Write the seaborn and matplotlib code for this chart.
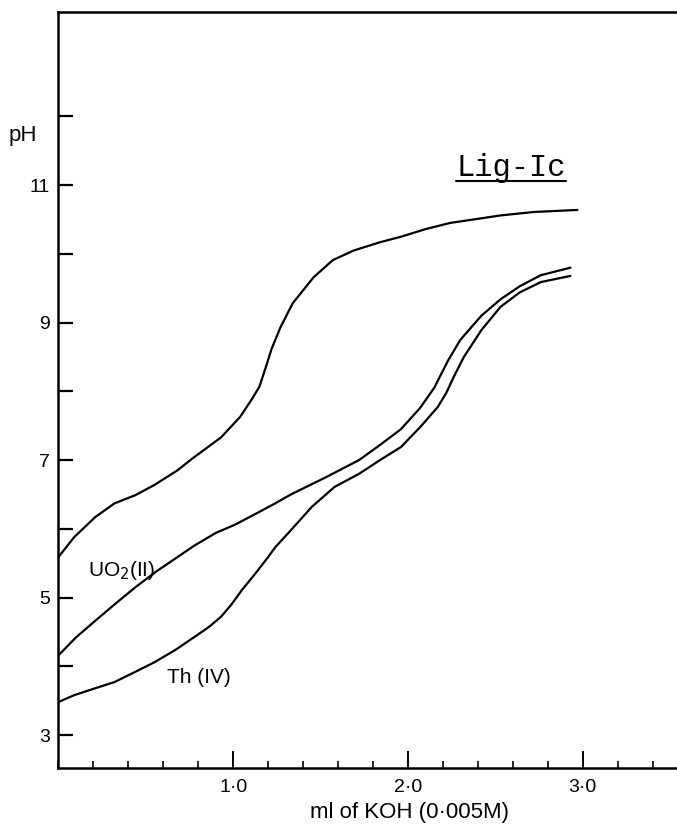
import numpy as np
import pandas as pd
import matplotlib
matplotlib.use("Agg")
import matplotlib.pyplot as plt
from matplotlib.lines import Line2D
from matplotlib.ticker import MultipleLocator, FixedLocator
import seaborn as sns

# ---- data ----
lig_x = [0.00, 0.09, 0.21, 0.32, 0.44, 0.55, 0.68, 0.77, 0.93, 1.04, 1.11, 1.15,
         1.18, 1.22, 1.27, 1.34, 1.46, 1.57, 1.69, 1.84, 1.96, 2.10, 2.24, 2.53,
         2.72, 2.97]
lig_y = [5.59, 5.88, 6.17, 6.37, 6.49, 6.64, 6.85, 7.03, 7.33, 7.63, 7.90, 8.07,
         8.30, 8.62, 8.93, 9.28, 9.66, 9.91, 10.05, 10.17, 10.25, 10.36, 10.45,
         10.56, 10.61, 10.64]

uo2_x = [0.00, 0.10, 0.20, 0.33, 0.44, 0.56, 0.67, 0.78, 0.90, 1.01, 1.13, 1.24,
         1.33, 1.53, 1.72, 1.84, 1.96, 2.07, 2.15, 2.19, 2.23, 2.30, 2.42, 2.53,
         2.64, 2.76, 2.93]
uo2_y = [4.16, 4.42, 4.64, 4.92, 5.15, 5.38, 5.57, 5.76, 5.94, 6.06, 6.22, 6.37,
         6.50, 6.75, 7.00, 7.22, 7.45, 7.76, 8.05, 8.25, 8.45, 8.75, 9.10, 9.34,
         9.53, 9.69, 9.80]

th_x = [0.00, 0.09, 0.21, 0.32, 0.44, 0.55, 0.67, 0.78, 0.86, 0.93, 0.99, 1.05,
        1.13, 1.20, 1.24, 1.33, 1.45, 1.58, 1.72, 1.84, 1.96, 2.07, 2.17, 2.22,
        2.26, 2.32, 2.42, 2.53, 2.64, 2.76, 2.93]
th_y = [3.48, 3.58, 3.68, 3.77, 3.92, 4.06, 4.24, 4.43, 4.57, 4.72, 4.90, 5.11,
        5.36, 5.59, 5.73, 5.98, 6.32, 6.61, 6.80, 7.00, 7.19, 7.48, 7.77, 7.98,
        8.20, 8.50, 8.89, 9.23, 9.44, 9.59, 9.68]

series_names = ["Lig-Ic", "UO2(II)", "Th(IV)"]
y_ticks = [3, 4, 5, 6, 7, 8, 9, 10, 11, 12]
y_tick_labels = ["3", "", "5", "", "7", "", "9", "", "11", ""]
x_major = [1.0, 2.0, 3.0]
x_major_labels = ["1·0", "2·0", "3·0"]

df = pd.concat([
    pd.DataFrame({"x": lig_x, "pH": lig_y, "series": series_names[0]}),
    pd.DataFrame({"x": uo2_x, "pH": uo2_y, "series": series_names[1]}),
    pd.DataFrame({"x": th_x, "pH": th_y, "series": series_names[2]}),
], ignore_index=True)

sns.set_theme(style="ticks")
plt.rcParams["font.family"] = ["Liberation Sans", "DejaVu Sans"]

fig = plt.figure(figsize=(6.77, 8.26), dpi=100)
ax = fig.add_axes([58.5 / 677, 58 / 826, 1 - 58.5 / 677, (768 - 12) / 826])

sns.lineplot(data=df, x="x", y="pH", hue="series", units="series",
             estimator=None, sort=False, palette=["black"] * 3,
             linewidth=1.6, legend=False, ax=ax)
for ln in ax.lines:
    ln.set_solid_joinstyle("round")
    ln.set_solid_capstyle("round")

ax.set_xlim(0, 3.54)
ax.set_ylim(2.52, 13.52)

for s in ["left", "bottom", "top"]:
    ax.spines[s].set_linewidth(1.8)
    ax.spines[s].set_color("black")
ax.spines["right"].set_visible(False)

ax.yaxis.set_major_locator(FixedLocator(y_ticks))
ax.set_yticklabels(y_tick_labels)
ax.xaxis.set_major_locator(FixedLocator(x_major))
ax.set_xticklabels(x_major_labels)
ax.xaxis.set_minor_locator(MultipleLocator(0.2))

ax.tick_params(axis="y", direction="in", length=11, width=1.6, labelsize=14,
               pad=6, colors="black", left=True, right=False)
ax.tick_params(axis="x", which="major", direction="in", length=12, width=1.4,
               labelsize=14, pad=8, colors="black", top=False)
ax.tick_params(axis="x", which="minor", direction="in", length=5, width=1.2,
               colors="black", top=False)

ax.set_xlabel("ml of KOH (0·005M)", fontsize=16, color="black")
ax.xaxis.label.set_va("center")
ax.xaxis.set_label_coords(0.568, -0.0595)
ax.set_ylabel("pH", fontsize=16, rotation=0, color="black")
ax.yaxis.label.set_va("center")
ax.yaxis.set_label_coords(-0.058, 0.837)

ax.text(0.17, 5.40, "UO$_2$(II)", fontsize=15, color="black",
        ha="left", va="center")
ax.text(0.62, 3.83, "Th (IV)", fontsize=15, color="black",
        ha="left", va="center")
title = ax.text(2.59, 11.25, "Lig-Ic", fontsize=22, color="black",
                family=["Liberation Mono", "DejaVu Sans Mono"],
                ha="center", va="center")

fig.canvas.draw()
bb = title.get_window_extent(renderer=fig.canvas.get_renderer())
yline = bb.y0 + 2
fig.add_artist(Line2D([bb.x0, bb.x1], [yline, yline],
                      transform=None, color="black", linewidth=1.5))

fig.savefig("out.png", dpi=100, facecolor="white")
